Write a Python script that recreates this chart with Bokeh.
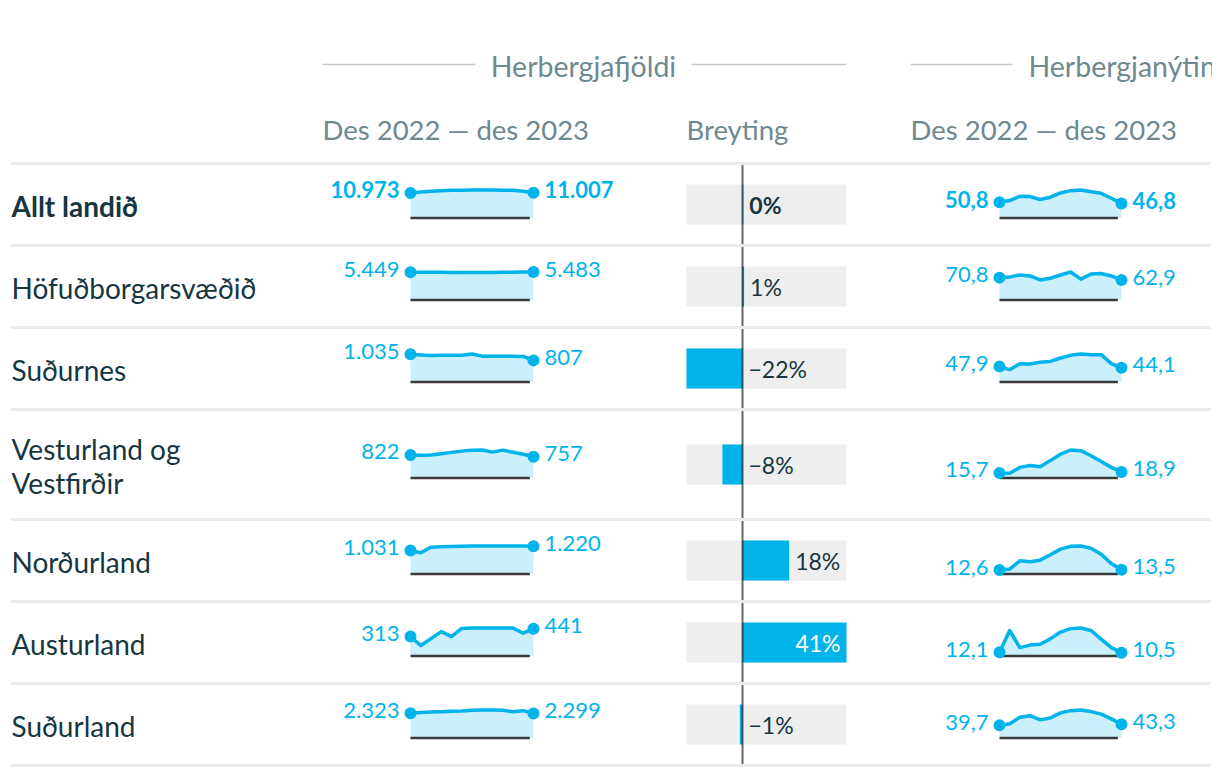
import numpy as np
from bokeh.plotting import figure
from bokeh.models import Range1d
from bokeh.embed import file_html
from bokeh.resources import INLINE
from bokeh.core.properties import value

# ---------------- data ----------------
regions = ["Allt landið", "Höfuðborgarsvæðið", "Suðurnes", "Vesturland og\nVestfirðir",
           "Norðurland", "Austurland", "Suðurland"]
months = list(range(13))  # des 2022 ... des 2023

rooms_allt = [10973, 11390, 11670, 11950, 12100, 12170, 12240, 12240, 12240, 12170, 12100, 11670, 11007]
rooms_hofud = [5449, 5450, 5440, 5420, 5400, 5390, 5380, 5390, 5400, 5420, 5440, 5460, 5483]
rooms_sudurnes = [1035, 1010, 985, 1000, 995, 1000, 1045, 965, 960, 960, 958, 955, 807]
rooms_vestur = [822, 812, 822, 865, 915, 960, 990, 1000, 925, 995, 920, 850, 757]
rooms_nordur = [1031, 935, 1180, 1200, 1205, 1215, 1225, 1230, 1230, 1230, 1230, 1225, 1220]
rooms_austur = [313, 170, 280, 394, 313, 445, 450, 452, 452, 452, 450, 368, 441]
rooms_sudur = [2323, 2380, 2440, 2470, 2500, 2535, 2595, 2625, 2625, 2595, 2470, 2565, 2299]

occ_allt = [50.8, 56.1, 69.8, 68.8, 59.3, 66.7, 80.4, 87.8, 89.9, 84.6, 79.3, 63.5, 46.8]
occ_hofud = [70.8, 73.0, 79.2, 76.0, 63.5, 68.9, 79.2, 88.6, 66.0, 82.0, 84.0, 76.0, 62.9]
occ_sudurnes = [47.9, 38.3, 57.0, 56.0, 61.0, 64.0, 74.5, 82.8, 86.9, 84.8, 84.8, 57.0, 44.1]
occ_vestur = [15.7, 14.4, 33.0, 39.0, 35.0, 54.0, 74.0, 87.0, 85.0, 69.0, 51.0, 33.0, 18.9]
occ_nordur = [12.6, 15.8, 42.0, 39.0, 44.0, 61.0, 79.0, 88.0, 89.0, 82.0, 63.0, 33.0, 13.5]
occ_austur = [12.1, 82.0, 27.0, 35.0, 38.0, 55.0, 77.0, 88.0, 90.0, 82.0, 54.0, 27.0, 10.5]
occ_sudur = [39.7, 44.5, 65.0, 70.0, 57.0, 63.0, 79.0, 86.0, 88.0, 83.0, 75.0, 60.0, 43.3]

rooms = [rooms_allt, rooms_hofud, rooms_sudurnes, rooms_vestur, rooms_nordur, rooms_austur, rooms_sudur]
occupancy = [occ_allt, occ_hofud, occ_sudurnes, occ_vestur, occ_nordur, occ_austur, occ_sudur]

group1_title = "Herbergjafjöldi"
group2_title = "Herbergjanýting"
period_label = "Des 2022 — des 2023"
change_label = "Breyting"

# ---------------- style / layout ----------------
W, H = 1212, 772
FONT = value("Lato")
BLUE = "#00b4eb"
AREA = "#cbf0fb"
DARK = "#17363f"
HEAD = "#6e8990"
SEP = "#ebebeb"

row_heights = [82, 82, 82, 110, 82, 82, 82]
top0 = 163
row_tops = list(np.cumsum([top0] + row_heights[:-1]))
row_centers = [t + h / 2 for t, h in zip(row_tops, row_heights)]
row_bottoms = [t + h for t, h in zip(row_tops, row_heights)]
SPARK_H = 28.0
BASE_OFF = 13.5

p = figure(width=W, height=H, x_range=Range1d(0, W), y_range=Range1d(H, 0),
           output_backend="svg", toolbar_location=None, min_border=0,
           x_axis_location=None, y_axis_location=None)
p.grid.visible = False
p.outline_line_color = None
p.background_fill_color = "white"
p.border_fill_color = "white"

def fmt_rooms(v):
    return f"{v:,}".replace(",", ".")

def fmt_occ(v):
    return f"{v:.1f}".replace(".", ",")

def x_range_for(px0, px1, n):
    s = (px1 - px0) / n
    a = -px0 / s
    return Range1d(a, a + W / s)

def y_range_for(base, vmax):
    s = SPARK_H / vmax
    return Range1d((base - H) / s, base / s)

p.extra_x_ranges = {"sp1": x_range_for(410, 533, months[-1]),
                    "sp2": x_range_for(999, 1121, months[-1])}

# ---- header ----
p.segment(x0=[322, 691, 910], x1=[475, 846, 1012],
          y0=[64] * 3, y1=[64] * 3, line_color="#c8c8c8", line_width=1.5)
p.text(x=[583], y=[65], text=[group1_title], text_font=FONT, text_font_size="28.5px",
       text_color=HEAD, text_align="center", text_baseline="middle")
p.text(x=[1028], y=[65], text=[group2_title], text_font=FONT, text_font_size="28.5px",
       text_color=HEAD, text_align="left", text_baseline="middle")
p.text(x=[322, 686, 910], y=[129] * 3,
       text=[period_label, change_label, period_label], text_font=FONT, text_font_size="27.5px",
       text_color=HEAD, text_align="left", text_baseline="middle")

# ---- change bars ----
changes = [(r[-1] / r[0] - 1) * 100 for r in rooms]
pmin, pmax = min(changes), max(changes)
bx0, bx1 = 686, 846
s_pct = (bx1 - bx0) / (pmax - pmin)
a_pct = pmin - bx0 / s_pct
p.extra_x_ranges["pct"] = Range1d(a_pct, a_pct + W / s_pct)

p.hbar(y=row_centers, left=pmin, right=pmax, height=40, fill_color="#eeeeee",
       line_color=None, x_range_name="pct")
p.hbar(y=row_centers, left=[min(0, c) for c in changes], right=[max(0, c) for c in changes],
       height=40, fill_color=BLUE, line_color=None, x_range_name="pct")
p.segment(x0=[0], x1=[0], y0=[top0], y1=[row_bottoms[-1]], line_color="black",
          line_alpha=0.6, line_width=2, x_range_name="pct")

for i, c in enumerate(changes):
    lab = f"{round(c):d}%".replace("-", "\u2212")
    end = max(0.0, c)
    wtxt = 12.5 * len(lab)
    bold = "bold" if i == 0 else "normal"
    if end * s_pct + 6 + wtxt > pmax * s_pct + 2:
        p.text(x=[c], y=[row_centers[i]], x_offset=-6, y_offset=0, text=[lab], text_font=FONT,
               text_font_size="23px", text_color="white", text_align="right",
               text_baseline="middle", text_font_style=bold, x_range_name="pct")
    else:
        p.text(x=[end], y=[row_centers[i]], x_offset=6, y_offset=0, text=[lab], text_font=FONT,
               text_font_size="23px", text_color=DARK, text_align="left",
               text_baseline="middle", text_font_style=bold, x_range_name="pct")

# ---- sparklines ----
def sparkline(i, vals, xr, fmt):
    base = row_centers[i] + BASE_OFF
    yname = f"{xr}_{i}"
    p.extra_y_ranges[yname] = y_range_for(base, max(vals))
    kw = dict(x_range_name=xr, y_range_name=yname)
    p.varea(x=months, y1=[0] * len(months), y2=vals, fill_color=AREA, **kw)
    p.segment(x0=[months[0]], x1=[months[-1] * 0.97], y0=[0], y1=[0], line_color="#3a3a3a",
              line_width=2.5, **kw)
    p.line(x=months, y=vals, line_color=BLUE, line_width=3.5, line_join="round", **kw)
    p.scatter(x=[months[0], months[-1]], y=[vals[0], vals[-1]], size=12, fill_color=BLUE,
              line_color=None, **kw)
    bold = "bold" if i == 0 else "normal"
    p.text(x=[months[0]], y=[vals[0]], x_offset=-11, y_offset=-3, text=[fmt(vals[0])],
           text_font=FONT, text_font_size="22px", text_color=BLUE, text_align="right",
           text_baseline="middle", text_font_style=bold, **kw)
    p.text(x=[months[-1]], y=[vals[-1]], x_offset=11, y_offset=-3, text=[fmt(vals[-1])],
           text_font=FONT, text_font_size="22px", text_color=BLUE, text_align="left",
           text_baseline="middle", text_font_style=bold, **kw)

for i in range(len(regions)):
    sparkline(i, rooms[i], "sp1", fmt_rooms)
    sparkline(i, occupancy[i], "sp2", fmt_occ)

# ---- row labels ----
for i, name in enumerate(regions):
    lines = name.split("\n")
    n = len(lines)
    for k, ln in enumerate(lines):
        yy = row_centers[i] + 1 + (k - (n - 1) / 2) * 34
        p.text(x=[11], y=[yy], text=[ln], text_font=FONT, text_font_size="28px",
               text_color=DARK, text_align="left", text_baseline="middle",
               text_font_style="bold" if i == 0 else "normal")

# ---- separators ----
seps = [top0] + row_bottoms
p.segment(x0=[10] * len(seps), x1=[1210] * len(seps), y0=seps, y1=seps,
          line_color=SEP, line_width=3)

open("out.html", "w").write(file_html(p, INLINE))
